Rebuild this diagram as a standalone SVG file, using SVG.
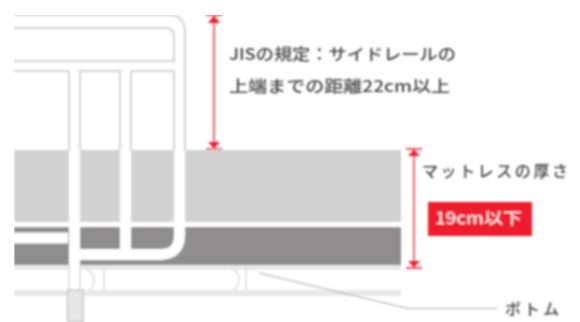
<svg xmlns="http://www.w3.org/2000/svg" width="580" height="322" viewBox="0 0 580 322">
<style>
.rail{fill:none;stroke:#d2d2d2;stroke-width:2}
.thin{fill:none;stroke:#dcdcdc;stroke-width:1.6}
.white{fill:none;stroke:#fff;stroke-width:11}
.dim{fill:none;stroke:#e8344a;stroke-width:1.5}
.cap{fill:none;stroke:#ee1c2e;stroke-width:1.5}
.head{fill:#ee1c2e}
.lbl{font-family:"Noto Sans CJK JP","Noto Sans",sans-serif;font-size:16px;font-weight:500;fill:#444}
</style>
<defs><filter id="soft" x="0" y="0" width="100%" height="100%"><feGaussianBlur stdDeviation="0.8"/></filter></defs>
<rect width="580" height="322" fill="#fff"/>
<g filter="url(#soft)">
<g id="mattress">
<rect x="14" y="150" width="387" height="72" fill="#d1d1d1"/>
<rect x="14" y="227" width="387" height="38" fill="#8f8d8e"/>
</g>
<g id="bottom">
<rect x="14" y="265" width="387" height="5" fill="#e8e8e8"/>
<rect x="14" y="290" width="387" height="6" fill="#e8e8e8"/>
<path class="thin" d="M104 268V290M246 268V290"/>
<path class="thin" d="M86 268Q100 278 90 290M232 268Q245 278 234 290"/>
</g>
<g id="side-rail">
<path class="white" d="M14 238H68"/>
<path class="white" d="M74.500 150V290"/>
<path class="white" d="M125.500 150V250"/>
<path class="white" d="M80 254.500H160Q179.500 254.500 179.500 235V150"/>
<path d="M14 224.500H401" fill="none" stroke="#fff" stroke-width="5"/>
<path class="thin" d="M69 265V290M80 265V290"/>
<path class="rail" d="M14 15H168Q185 15 185 32V150"/>
<path class="rail" d="M14 28H166Q174 28 174 36V61H14"/>
<path class="rail" d="M14 71H69V150M80 150V71H120V150M131 150V71H174V150"/>
<rect x="67.500" y="290" width="15.500" height="32" fill="#e6e6e6" stroke="#c4c4c4" stroke-width="1.400"/>
</g>
<g id="connectors">
<path class="dim" d="M214 17V147"/>
<path class="cap" d="M206 15H222M206 149H222"/>
<path class="head" d="M214 15.500L208 23H220ZM214 148.500L208 142H220Z"/>
<path class="dim" d="M414 151V265"/>
<path class="cap" d="M406 149H422M406 268H422"/>
<path class="head" d="M414 149.500L408 156H420ZM414 267.500L408 261H420Z"/>
<path d="M259 273L408 308.500H497" fill="none" stroke="#aaa" stroke-width="1.100"/>
</g>
<g id="label-jis">
<text class="lbl" x="229" y="60" textLength="227" lengthAdjust="spacingAndGlyphs">JISの規定：サイドレールの</text>
<text class="lbl" x="229" y="92" textLength="221" lengthAdjust="spacingAndGlyphs">上端までの距離22cm以上</text>
</g>
<g id="label-thickness">
<text class="lbl" x="422" y="177" textLength="146">マットレスの厚さ</text>
<rect x="428" y="202" width="104" height="34" fill="#ee1c2e"/>
<text x="435" y="224" textLength="87" lengthAdjust="spacingAndGlyphs" style="font-family:'Noto Sans CJK JP','Noto Sans',sans-serif;font-size:16px;font-weight:400;fill:#fff">19cm以下</text>
</g>
<g id="label-bottom">
<text class="lbl" x="505" y="315" textLength="54">ボトム</text>
</g>
</g>
</svg>
